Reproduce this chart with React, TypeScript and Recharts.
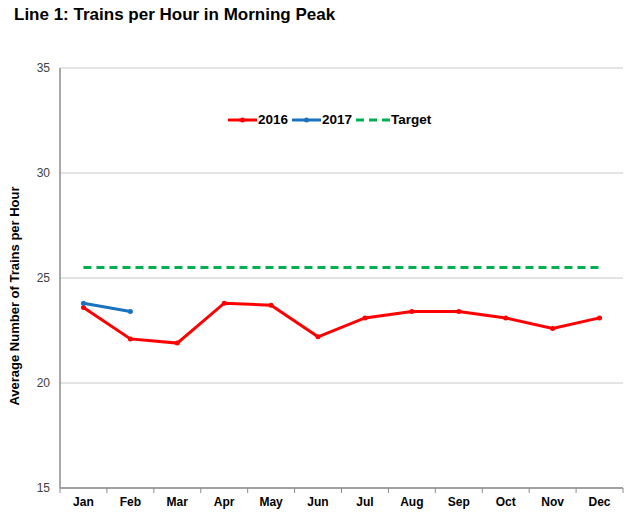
import { ComposedChart, Line, XAxis, YAxis, CartesianGrid, Legend } from 'recharts';

const COLORS = {
  y2016: "#ff0000",
  y2017: "#1a73c0",
  target: "#00b050",
  axis: "#8c8c8c",
  grid: "#c8c8c8",
  text: "#000000",
  tickText: "#404040"
}

const FONT = "Arial, 'Liberation Sans', sans-serif";

const months = ["Jan", "Feb", "Mar", "Apr", "May", "Jun", "Jul", "Aug", "Sep", "Oct", "Nov", "Dec"];
const trains2016 = [23.6, 22.1, 21.9, 23.8, 23.7, 22.2, 23.1, 23.4, 23.4, 23.1, 22.6, 23.1];
const trains2017: (number | null)[] = [23.8, 23.4, null, null, null, null, null, null, null, null, null, null];
const target = [25.5, 25.5, 25.5, 25.5, 25.5, 25.5, 25.5, 25.5, 25.5, 25.5, 25.5, 25.5];
const yTicks = [15, 20, 25, 30, 35];

const chartData = months.map((m, i) => ({
  month: m,
  y2016: trains2016[i],
  y2017: trains2017[i],
  target: target[i],
}));

// month label + tick marks sitting on the category boundaries
const MonthTick = (props: any) => {
  const { x, y, payload, index, visibleTicksCount } = props;
  const half = payload?.offset ?? 0;
  const axisY = y - 8;
  return (
    <g>
      <line x1={x - half} x2={x - half} y1={axisY} y2={axisY + 5} stroke={COLORS.axis} strokeWidth={1} />
      {index === visibleTicksCount - 1 && (
        <line x1={x + half} x2={x + half} y1={axisY} y2={axisY + 5} stroke={COLORS.axis} strokeWidth={1} />
      )}
      <text x={x} y={y + 1} dy="0.71em" textAnchor="middle" fill={COLORS.text} fontSize={12} fontWeight="bold" fontFamily={FONT}>
        {payload.value}
      </text>
    </g>
  );
};

const YLabel = (props: any) => {
  const { viewBox } = props;
  const cy = viewBox.y + viewBox.height / 2 + 18;
  const x = 19;
  return (
    <text x={x} y={cy} transform={`rotate(-90, ${x}, ${cy})`} textAnchor="middle" fill={COLORS.text}
      fontSize={13} fontWeight="bold" fontFamily={FONT}>
      Average Number of Trains per Hour
    </text>
  );
};

const LegendContent = () => {
  const items = [
    { label: "2016", color: COLORS.y2016, dashed: false, w: 29 },
    { label: "2017", color: COLORS.y2017, dashed: false, w: 29 },
    { label: "Target", color: COLORS.target, dashed: true, w: 34 },
  ];
  return (
    <div style={{ display: "flex", alignItems: "center", fontFamily: FONT, fontWeight: "bold", fontSize: 13.5, color: COLORS.text }}>
      {items.map((it) => (
        <div key={it.label} style={{ display: "flex", alignItems: "center", marginRight: 4 }}>
          <svg width={it.w} height={10}>
            <line x1={0} x2={it.w} y1={5} y2={5} stroke={it.color} strokeWidth={3} strokeDasharray={it.dashed ? "8 5" : undefined} />
            {!it.dashed && <circle cx={it.w / 2} cy={5} r={2.5} fill={it.color} />}
          </svg>
          <span style={{ marginLeft: 1 }}>{it.label}</span>
        </div>
      ))}
    </div>
  );
};

export default function App() {
  return (
    <div style={{ position: "absolute", left: 0, top: 0, width: 633, height: 516, background: "#fff" }}>
      <div style={{ position: "absolute", left: 14, top: 5, fontFamily: FONT, fontWeight: "bold", fontSize: 17, color: COLORS.text }}>
        Line 1: Trains per Hour in Morning Peak
      </div>
      <ComposedChart width={633} height={516} data={chartData} margin={{ top: 68, right: 10, bottom: 0, left: 0 }}>
        <CartesianGrid vertical={false} stroke={COLORS.grid} />
        <XAxis
          dataKey="month"
          scale="band"
          height={28}
          axisLine={{ stroke: COLORS.axis, strokeWidth: 1.5 }}
          tickLine={false}
          tickSize={6}
          tickMargin={2}
          interval={0}
          tick={<MonthTick />}
        />
        <XAxis xAxisId="top" orientation="top" height={0} tick={false} tickLine={false} axisLine={{ stroke: COLORS.axis, strokeWidth: 1.5 }} />
        <YAxis
          width={60}
          domain={[15, 35]}
          ticks={yTicks}
          tickLine={false}
          tickSize={0}
          tickMargin={10}
          axisLine={{ stroke: COLORS.axis, strokeWidth: 1.5 }}
          tick={{ fill: COLORS.tickText, fontSize: 12, fontFamily: FONT }}
          label={<YLabel />}
        />
        <YAxis yAxisId="right" orientation="right" width={0} domain={[15, 35]} tick={false} tickLine={false} axisLine={{ stroke: COLORS.axis, strokeWidth: 1.5 }} />
        <Legend verticalAlign="middle" align="center" content={<LegendContent />} wrapperStyle={{ top: 112, left: 228, width: "auto" }} />
        <Line dataKey="target" stroke={COLORS.target} strokeWidth={3} strokeDasharray="8 5" dot={false} isAnimationActive={false} />
        <Line dataKey="y2016" stroke={COLORS.y2016} strokeWidth={3} dot={{ r: 2.5, fill: COLORS.y2016, stroke: COLORS.y2016, strokeWidth: 0 }} isAnimationActive={false} />
        <Line dataKey="y2017" stroke={COLORS.y2017} strokeWidth={3} dot={{ r: 2.5, fill: COLORS.y2017, stroke: COLORS.y2017, strokeWidth: 0 }} isAnimationActive={false} />
      </ComposedChart>
    </div>
  );
}
